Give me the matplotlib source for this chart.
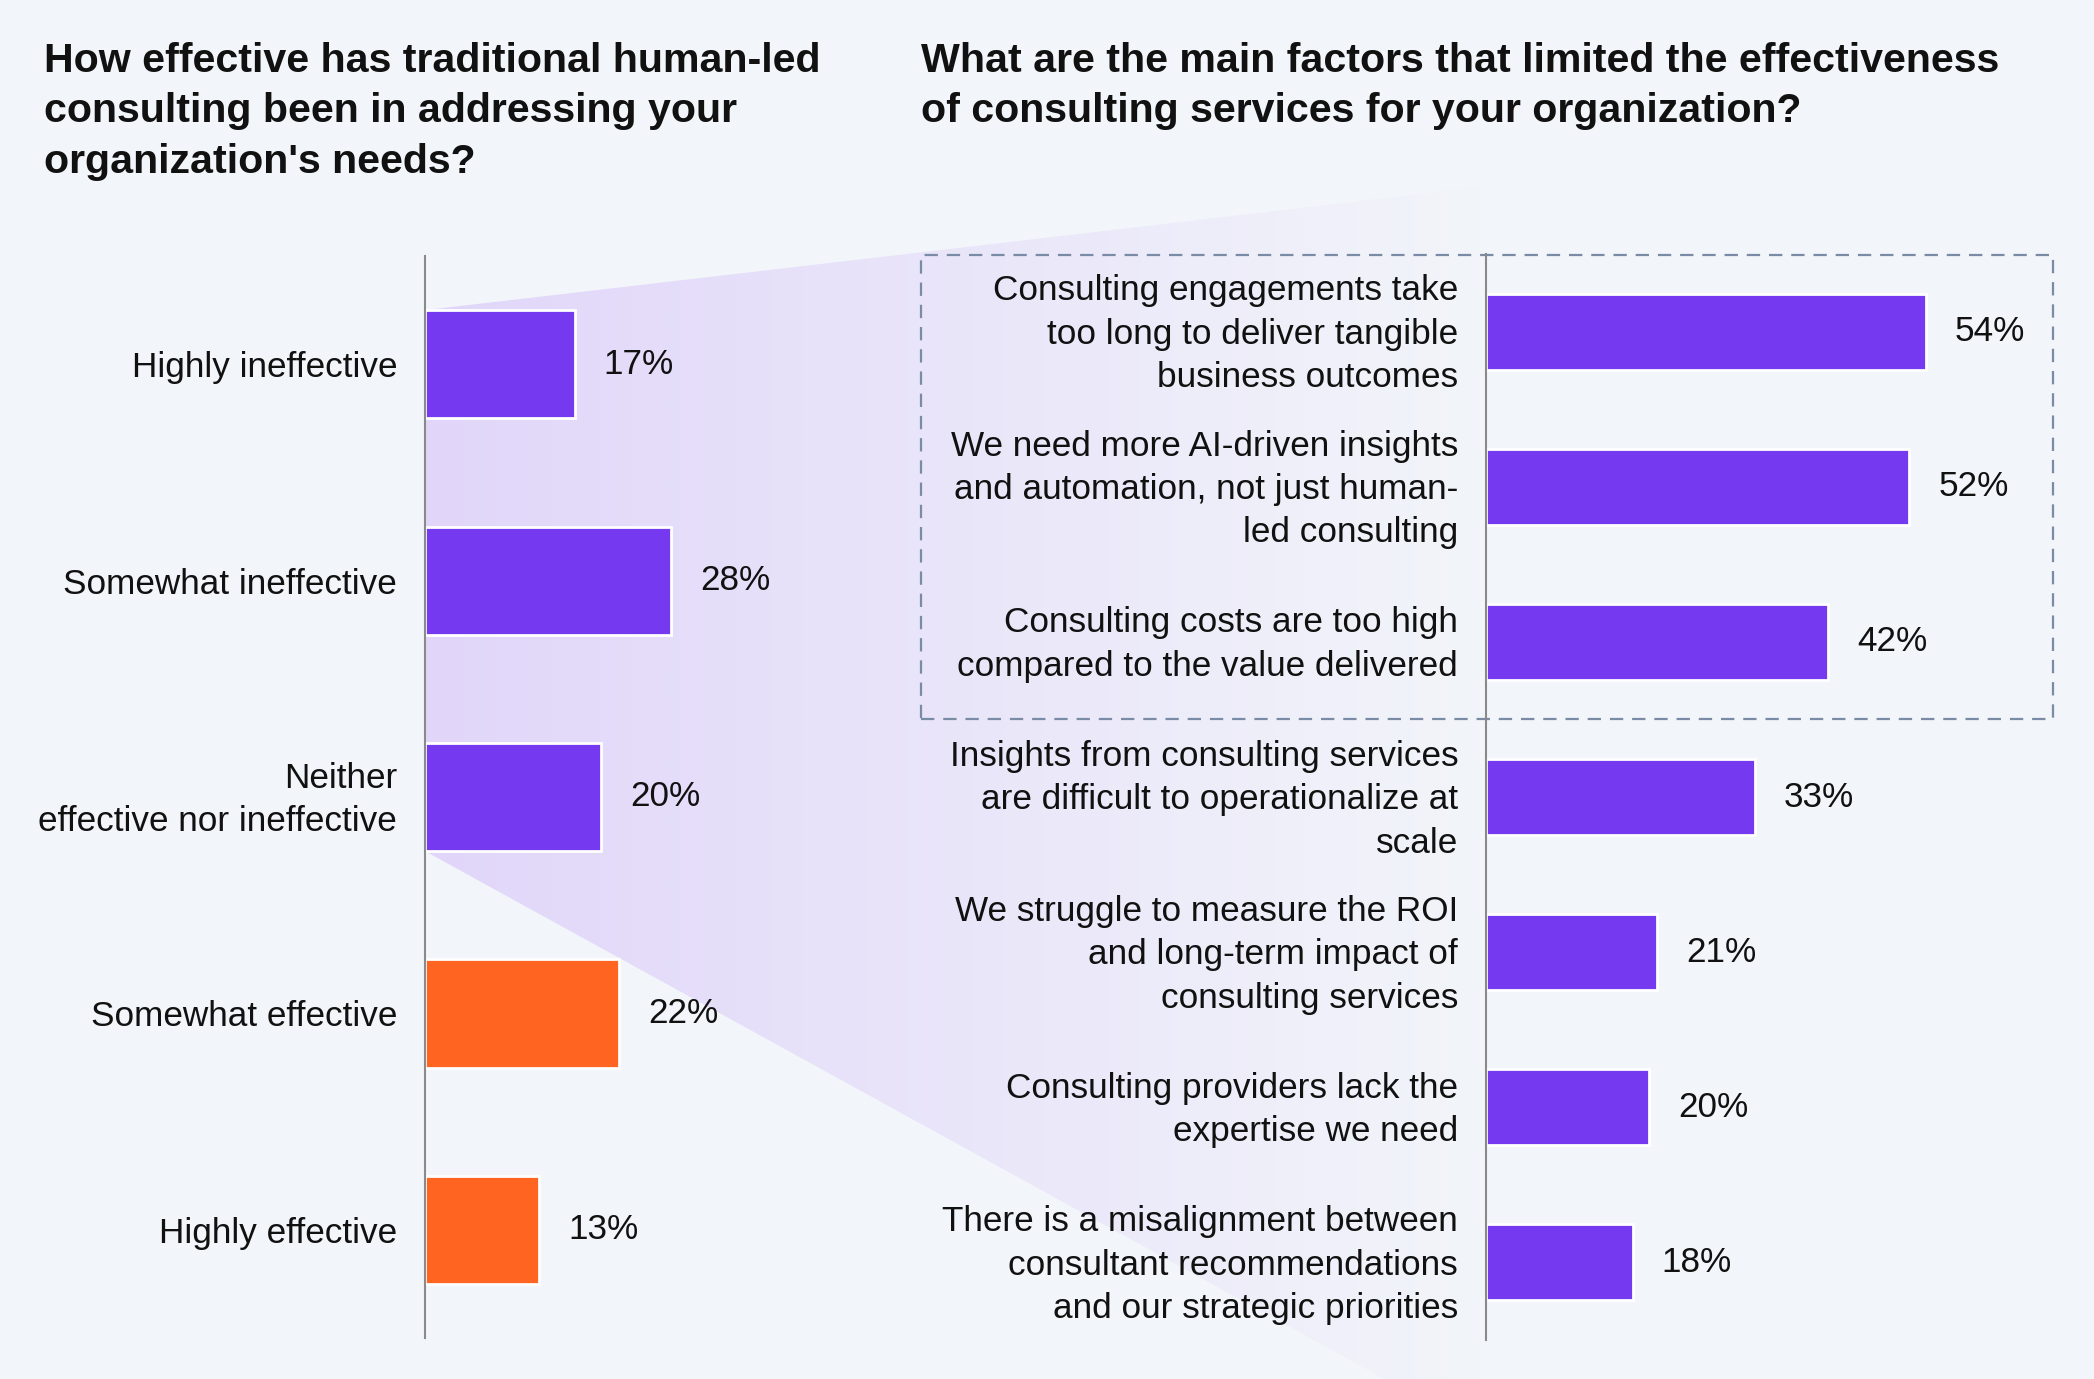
import matplotlib.pyplot as plt
import matplotlib.colors as mcolors
import matplotlib.transforms as mtransforms
from matplotlib.patches import Polygon, Rectangle
import numpy as np

# Data
left_title = "How effective has traditional human-led\nconsulting been in addressing your\norganization's needs?"
left_labels = ["Highly ineffective", "Somewhat ineffective",
               "Neither\neffective nor ineffective", "Somewhat effective",
               "Highly effective"]
left_values = [17, 28, 20, 22, 13]
left_negative = [True, True, True, False, False]

right_title = "What are the main factors that limited the effectiveness\nof consulting services for your organization?"
right_labels = ["Consulting engagements take\ntoo long to deliver tangible\nbusiness outcomes",
                "We need more AI-driven insights\nand automation, not just human-\nled consulting",
                "Consulting costs are too high\ncompared to the value delivered",
                "Insights from consulting services\nare difficult to operationalize at\nscale",
                "We struggle to measure the ROI\nand long-term impact of\nconsulting services",
                "Consulting providers lack the\nexpertise we need",
                "There is a misalignment between\nconsultant recommendations\nand our strategic priorities"]
right_values = [54, 52, 42, 33, 21, 20, 18]
n_highlight = 3  # top factors inside the dashed box

# Style
BG = '#f2f5f9'
PURPLE = '#7539f0'
ORANGE = '#ff6420'
LAVENDER = '#e1d6fa'
TXT = '#111111'
FS = 25.3
plt.rcParams['font.family'] = ['Liberation Sans', 'DejaVu Sans']

W, H = 2094, 1379
fig = plt.figure(figsize=(W / 100, H / 100), dpi=100, facecolor=BG)

# background layer in pixel coordinates
bg = fig.add_axes([0, 0, 1, 1], zorder=0)
bg.set_xlim(0, W)
bg.set_ylim(0, H)
bg.axis('off')

# left chart
axl = fig.add_axes([425 / W, (H - 1338) / H, 440 / W, (1338 - 256) / H], zorder=2)
yl = np.arange(len(left_values))
cols = [PURPLE if neg else ORANGE for neg in left_negative]
axl.barh(yl, left_values, height=0.5, color=cols, edgecolor='white', linewidth=2)
axl.set_xlim(0, 50)
axl.set_ylim(len(left_values) - 0.5, -0.5)
axl.set_yticks(yl)
axl.set_yticklabels(left_labels, fontsize=FS, color=TXT, linespacing=1.4)
for y, v in zip(yl, left_values):
    axl.annotate(f"{v}%", (v, y), xytext=(21, 0), textcoords='offset points',
                 va='center', ha='left', fontsize=FS, color=TXT)

# right chart
axr = fig.add_axes([1486 / W, (H - 1340) / H, 570 / W, (1340 - 254) / H], zorder=2)
yr = np.arange(len(right_values))
axr.barh(yr, right_values, height=0.49, color=PURPLE, edgecolor='white', linewidth=2)
axr.set_xlim(0, 70)
axr.set_ylim(len(right_values) - 0.5, -0.5)
axr.set_yticks(yr)
axr.set_yticklabels(right_labels, fontsize=FS, color=TXT, linespacing=1.4)
for y, v in zip(yr, right_values):
    axr.annotate(f"{v}%", (v, y), xytext=(21, 0), textcoords='offset points',
                 va='center', ha='left', fontsize=FS, color=TXT)

# nudge multi-line labels up a little so they sit centred on the bar
shift = mtransforms.ScaledTranslation(0, 6 / 100, fig.dpi_scale_trans)
for ax in (axl, axr):
    ax.patch.set_alpha(0)
    for s in ('top', 'right', 'bottom'):
        ax.spines[s].set_visible(False)
    ax.spines['left'].set_color('#8a8a8a')
    ax.spines['left'].set_linewidth(1.5)
    ax.set_xticks([])
    ax.tick_params(axis='y', length=0, pad=20)
    for lab in ax.get_yticklabels():
        if '\n' in lab.get_text():
            lab.set_transform(lab.get_transform() + shift)

# wedge linking the negative answers to the factors chart
neg_idx = [i for i, n in enumerate(left_negative) if n]
x0, y_top = axl.transData.transform((0, neg_idx[0] - 0.25))
_, y_bot = axl.transData.transform((0, neg_idx[-1] + 0.25))
x1 = 1500
wedge = Polygon([(x0, y_top), (x1, y_top + 0.1165 * (x1 - x0)),
                 (x1, y_bot - 0.55 * (x1 - x0)), (x0, y_bot)],
                closed=True, facecolor='none', edgecolor='none')
bg.add_patch(wedge)
cmap = mcolors.LinearSegmentedColormap.from_list('fade', [LAVENDER, BG])
grad = np.linspace(0, 1, 256).reshape(1, -1)
im = bg.imshow(grad, cmap=cmap, aspect='auto', extent=[x0, 1486, 0, H],
               interpolation='bicubic', zorder=1)
im.set_clip_path(wedge)

# dashed box around the top factors
bx0 = 921
bx1 = 2053
_, by_top = axr.transData.transform((0, -0.5))
_, by_bot = axr.transData.transform((0, n_highlight - 0.5))
bg.add_patch(Rectangle((bx0, by_bot), bx1 - bx0, by_top - by_bot - 1,
                       fill=False, edgecolor='#7a8ba6', linewidth=1.6,
                       linestyle=(0, (6, 4)), zorder=3))

# titles
fig.text(44 / W, 1 - 42 / H, left_title, ha='left', va='top', fontsize=29.6,
         fontweight='bold', color=TXT, linespacing=1.415)
fig.text(921 / W, 1 - 42 / H, right_title, ha='left', va='top', fontsize=29.6,
         fontweight='bold', color=TXT, linespacing=1.415)

fig.savefig('out.png', dpi=100, facecolor=BG)
